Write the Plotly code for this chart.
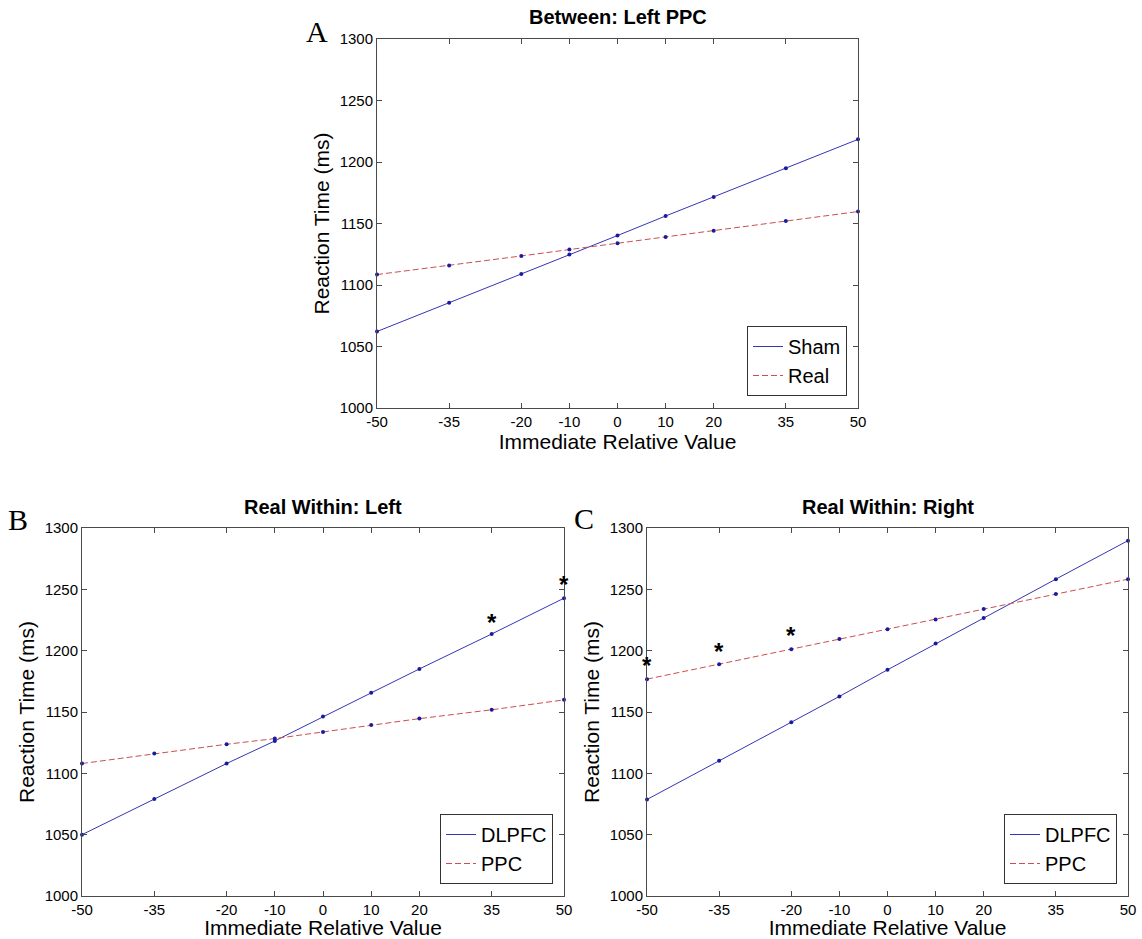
import plotly.graph_objects as go

# x positions shared by all three panels
rel_value = [-50, -35, -20, -10, 0, 10, 20, 35, 50]
x_tick_text = ["-50", "-35", "-20", "-10", "0", "10", "20", "35", "50"]

# Panel A: Between, left PPC
a_sham = [1062.2, 1085.5, 1109.0, 1124.7, 1140.2, 1156.1, 1171.6, 1194.9, 1218.4]
a_real = [1108.5, 1115.8, 1123.6, 1128.8, 1133.9, 1139.1, 1144.2, 1152.1, 1159.7]

# Panel B: Real within, left
b_dlpfc = [1050.0, 1079.0, 1108.0, 1126.4, 1146.3, 1165.6, 1185.1, 1213.6, 1242.8]
b_ppc = [1108.0, 1116.1, 1123.7, 1128.3, 1133.7, 1139.4, 1144.6, 1151.8, 1159.9]

# Panel C: Real within, right
c_dlpfc = [1078.7, 1110.2, 1141.6, 1162.7, 1184.4, 1205.8, 1226.6, 1258.3, 1289.7]
c_ppc = [1176.8, 1189.0, 1201.2, 1209.6, 1217.4, 1225.5, 1233.9, 1246.1, 1258.3]

# significance markers
stars_b_x = [35, 50]
stars_b_y = [1229, 1260]
stars_c_x = [-50, -35, -20]
stars_c_y = [1194, 1205, 1218]

y_ticks = [1000, 1050, 1100, 1150, 1200, 1250, 1300]

panel_titles = ["Between: Left PPC", "Real Within: Left", "Real Within: Right"]
panel_letters = ["A", "B", "C"]
x_title = "Immediate Relative Value"
y_title = "Reaction Time (ms)"

SANS = "Arial, Liberation Sans, Helvetica, sans-serif"
SERIF = "Times New Roman, Liberation Serif, serif"
BLUE = "#3535b5"
RED = "#cc4f4f"
MARK = "#1a1aa0"
AXIS = "#4a4a4a"

W, H = 1142, 939

# plot boxes in pixels: (left, right, top, bottom)
boxes = [(377, 858, 39, 408), (82, 564, 528, 896), (647, 1128, 528, 896)]

fig = go.Figure()

panels = [
    ("x", "y", "legend", a_sham, a_real, "Sham", "Real"),
    ("x2", "y2", "legend2", b_dlpfc, b_ppc, "DLPFC", "PPC"),
    ("x3", "y3", "legend3", c_dlpfc, c_ppc, "DLPFC", "PPC"),
]

for xa, ya, lg, solid, dashed, n1, n2 in panels:
    # lines (shown in the legend)
    fig.add_trace(go.Scatter(
        x=rel_value, y=solid, name=n1, mode="lines", xaxis=xa, yaxis=ya,
        legend=lg, line=dict(color=BLUE, width=1)))
    fig.add_trace(go.Scatter(
        x=rel_value, y=dashed, name=n2, mode="lines", xaxis=xa, yaxis=ya,
        legend=lg, line=dict(color=RED, width=1, dash="6px,3px")))
    # point markers on both lines
    for series in (solid, dashed):
        fig.add_trace(go.Scatter(
            x=rel_value, y=series, mode="markers", xaxis=xa, yaxis=ya,
            showlegend=False, marker=dict(color=MARK, size=4), cliponaxis=False,
            hoverinfo="skip"))

# asterisks
for xs, ys, xr, yr in [(stars_b_x, stars_b_y, "x2", "y2"), (stars_c_x, stars_c_y, "x3", "y3")]:
    for sx, sy in zip(xs, ys):
        fig.add_annotation(x=sx, y=sy, xref=xr, yref=yr, text="<b>*</b>",
                           showarrow=False, yshift=-7,
                           font=dict(family=SANS, size=24, color="black"))

def axis_common():
    return dict(showline=True, linecolor=AXIS, linewidth=1, mirror="ticks",
                ticks="inside", ticklen=5, tickcolor=AXIS, showgrid=False,
                zeroline=False, tickfont=dict(family=SANS, size=15, color="black"),
                automargin=False)

layout = dict(width=W, height=H, margin=dict(l=0, r=0, t=0, b=0),
              paper_bgcolor="white", plot_bgcolor="white", autosize=False,
              font=dict(family=SANS, color="black"))

for i, (l, r, t, b) in enumerate(boxes):
    sfx = "" if i == 0 else str(i + 1)
    xd = [l / W, r / W]
    yd = [1 - b / H, 1 - t / H]
    xax = axis_common()
    xax.update(domain=xd, anchor="y" + sfx, range=[-50, 50], tickvals=rel_value,
               ticktext=x_tick_text,
               title=dict(text=x_title, font=dict(family=SANS, size=21), standoff=0))
    yax = axis_common()
    yax.update(domain=yd, anchor="x" + sfx, range=[1000, 1300], tickvals=y_ticks,
               title=dict(text=y_title, font=dict(family=SANS, size=21), standoff=4))
    layout["xaxis" + sfx] = xax
    layout["yaxis" + sfx] = yax

    # legend in the lower-right corner of each panel
    lx = (r - 11) / W
    ly = 1 - (b - 12) / H
    layout["legend" + sfx] = dict(
        x=lx, y=ly, xanchor="right", yanchor="bottom",
        bgcolor="white", bordercolor="#333333", borderwidth=1,
        font=dict(family=SANS, size=20, color="black"),
        itemwidth=30, tracegroupgap=0)

fig.update_layout(**layout)

title_y = [17, 507, 507]
letter_pos = [(317, 31), (18, 519), (584, 518)]
for i, (l, r, t, b) in enumerate(boxes):
    fig.add_annotation(x=(l + r) / 2 / W, y=1 - title_y[i] / H, xref="paper", yref="paper",
                       xanchor="center", yanchor="middle",
                       text="<b>" + panel_titles[i] + "</b>", showarrow=False,
                       font=dict(family=SANS, size=20, color="black"))
    px, py = letter_pos[i]
    fig.add_annotation(x=px / W, y=1 - py / H, xref="paper", yref="paper",
                       xanchor="center", yanchor="middle",
                       text=panel_letters[i], showarrow=False,
                       font=dict(family=SERIF, size=30, color="black"))

fig.write_html("out.html")
